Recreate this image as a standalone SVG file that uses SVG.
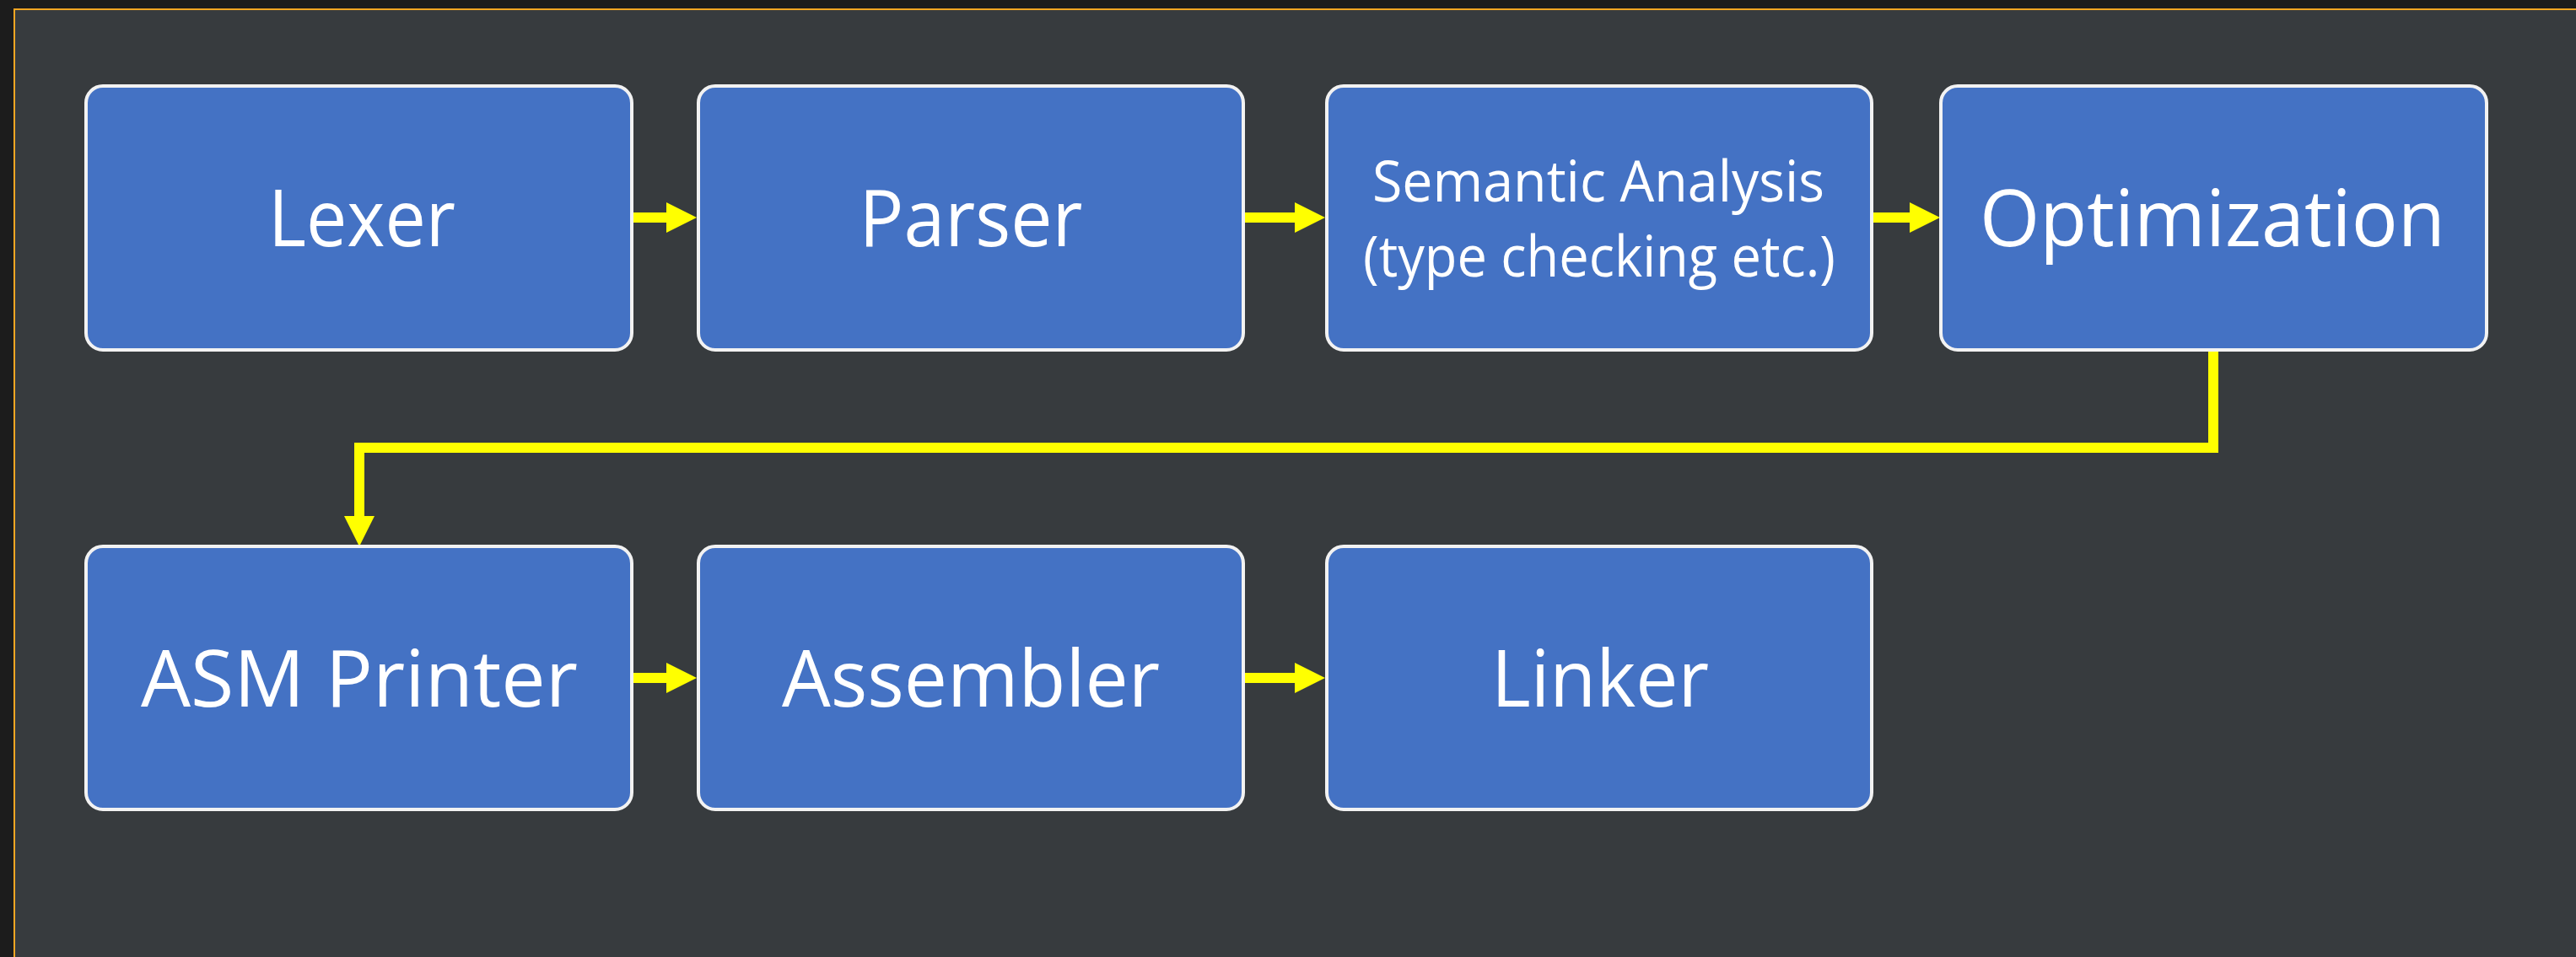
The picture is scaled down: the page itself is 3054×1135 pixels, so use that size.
<svg xmlns="http://www.w3.org/2000/svg" width="3054" height="1135" viewBox="0 0 3054 1135">
  <style>
    .box { fill: #4472c4; stroke: #f2f2f2; stroke-width: 4; }
    .lbl { fill: #ffffff; font-family: "Open Sans", "Noto Sans", "DejaVu Sans", sans-serif; text-anchor: middle; }
    .big { font-size: 94px; }
    .small { font-size: 67px; }
    .wire { fill: none; stroke: #ffff00; stroke-width: 12; stroke-linejoin: miter; }
  </style>
  <defs>
    <marker id="head" markerUnits="userSpaceOnUse" markerWidth="36" markerHeight="36" viewBox="0 0 36 36" refX="0" refY="18" orient="auto">
      <polygon points="0,0 36,18 0,36" fill="#ffff00"/>
    </marker>
  </defs>

  <!-- canvas and frame -->
  <rect x="0" y="0" width="3054" height="1135" fill="#1c1c1c"/>
  <rect x="17" y="11" width="3100" height="1200" fill="#373b3e" stroke="#f5a623" stroke-width="2"/>

  <!-- connectors -->
  <g id="connectors">
    <path class="wire" d="M751,258 H790" marker-end="url(#head)"/>
    <path class="wire" d="M1476,258 H1535" marker-end="url(#head)"/>
    <path class="wire" d="M2221,258 H2264" marker-end="url(#head)"/>
    <path class="wire" d="M2624,416 V531 H426 V612" marker-end="url(#head)"/>
    <path class="wire" d="M751,804 H790" marker-end="url(#head)"/>
    <path class="wire" d="M1476,804 H1535" marker-end="url(#head)"/>
  </g>

  <!-- row 1 -->
  <g id="lexer">
    <rect class="box" x="102" y="102" width="647" height="313" rx="20"/>
    <text class="lbl big" x="429" y="292" textLength="222" lengthAdjust="spacingAndGlyphs">Lexer</text>
  </g>
  <g id="parser">
    <rect class="box" x="828" y="102" width="646" height="313" rx="20"/>
    <text class="lbl big" x="1151" y="292" textLength="265" lengthAdjust="spacingAndGlyphs">Parser</text>
  </g>
  <g id="semantic">
    <rect class="box" x="1573" y="102" width="646" height="313" rx="20"/>
    <text class="lbl small" x="1895" y="239" textLength="536" lengthAdjust="spacingAndGlyphs">Semantic Analysis</text>
    <text class="lbl small" x="1896" y="328" textLength="560" lengthAdjust="spacingAndGlyphs">(type checking etc.)</text>
  </g>
  <g id="optimization">
    <rect class="box" x="2301" y="102" width="647" height="313" rx="20"/>
    <text class="lbl big" x="2623" y="292" textLength="552" lengthAdjust="spacingAndGlyphs">Optimization</text>
  </g>

  <!-- row 2 -->
  <g id="asm-printer">
    <rect class="box" x="102" y="648" width="647" height="312" rx="20"/>
    <text class="lbl big" x="426" y="838" textLength="518" lengthAdjust="spacingAndGlyphs">ASM Printer</text>
  </g>
  <g id="assembler">
    <rect class="box" x="828" y="648" width="646" height="312" rx="20"/>
    <text class="lbl big" x="1151" y="838" textLength="448" lengthAdjust="spacingAndGlyphs">Assembler</text>
  </g>
  <g id="linker">
    <rect class="box" x="1573" y="648" width="646" height="312" rx="20"/>
    <text class="lbl big" x="1897" y="838" textLength="258" lengthAdjust="spacingAndGlyphs">Linker</text>
  </g>
</svg>
